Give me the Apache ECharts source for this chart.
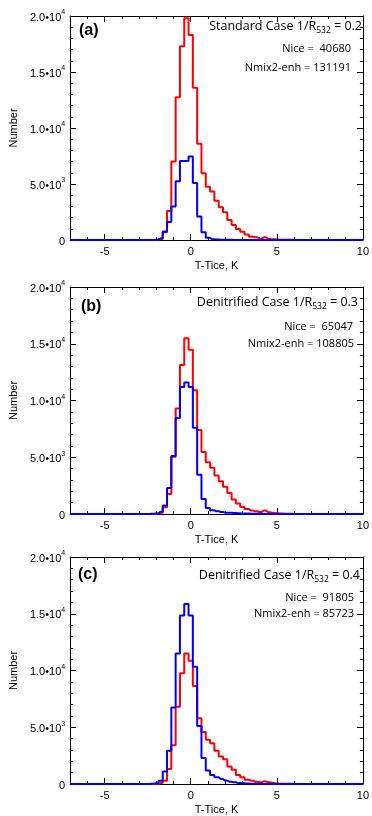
<!DOCTYPE html>
<html><head><meta charset="utf-8">
<script src="https://cdn.jsdelivr.net/npm/echarts@6/dist/echarts.min.js"></script>
<style>html,body{margin:0;padding:0;background:#fff}#c{width:372px;height:816px}</style>
</head><body><div id="c"></div>
<script>
// Bin centres (K), 0.25 K bins; -7 and 10 are the empty ends of the axis range
const binCenters = [-7, -2.5, -2.25, -2, -1.75, -1.5, -1.25, -1, -0.75, -0.5, -0.25, 0, 0.25, 0.5, 0.75, 1, 1.25, 1.5, 1.75, 2, 2.25, 2.5, 2.75, 3, 3.25, 3.5, 3.75, 4, 4.25, 4.5, 4.75, 5, 5.25, 5.5, 5.75, 6, 6.25, 6.5, 10];

// Panel (a) Standard Case
const nmixA = [0, 0, 10, 30, 90, 690, 2600, 7000, 12740, 17300, 19800, 18300, 13600, 8600, 5950, 4760, 4320, 3510, 2920, 2470, 1790, 1340, 980, 740, 480, 300, 240, 120, 240, 90, 60, 40, 30, 20, 15, 10, 5, 0, 0];
const niceA = [0, 0, 10, 30, 150, 760, 1600, 3000, 5250, 7050, 7050, 7450, 5100, 2100, 700, 200, 70, 40, 30, 20, 15, 10, 8, 5, 5, 3, 2, 0, 0, 0, 0, 0, 0, 0, 0, 0, 0, 0, 0];
// Panel (b) Denitrified 0.3
const nmixB = [0, 0, 10, 30, 100, 600, 1770, 5050, 9300, 13120, 15490, 14480, 10910, 7400, 5460, 4570, 4070, 3390, 2890, 2390, 1860, 1270, 915, 620, 440, 300, 240, 180, 300, 150, 100, 60, 40, 20, 15, 10, 5, 0, 0];
const niceB = [0, 0, 20, 50, 200, 740, 2300, 5100, 8450, 11200, 11590, 11200, 7600, 3450, 1330, 530, 320, 240, 180, 120, 100, 80, 60, 50, 40, 30, 20, 15, 10, 8, 5, 3, 0, 0, 0, 0, 0, 0, 0];
// Panel (c) Denitrified 0.4
const nmixC = [0, 0, 5, 20, 80, 290, 1320, 3420, 6800, 9750, 11490, 10850, 8630, 5800, 4590, 3890, 3600, 2920, 2430, 2190, 1550, 1260, 790, 585, 380, 290, 200, 150, 230, 150, 80, 50, 30, 20, 15, 10, 5, 0, 0];
const niceC = [0, 0, 15, 60, 290, 1100, 2920, 6730, 11490, 14850, 15850, 14850, 10320, 5100, 2300, 1200, 790, 600, 440, 300, 200, 150, 90, 60, 40, 30, 20, 15, 10, 5, 0, 0, 0, 0, 0, 0, 0, 0, 0];

const xMajorTicks = [-5, 0, 5, 10];
const yTickValues = [0, 5000, 10000, 15000, 20000];
const yTickMantissa = ['0', '5.0', '1.0', '1.5', '2.0'];
const yTickExponent = ['', '3', '4', '4', '4'];

const panelLabels = ['(a)', '(b)', '(c)'];
const caseNames = ['Standard Case', 'Denitrified Case', 'Denitrified Case'];
const ratioValues = ['0.2', '0.3', '0.4'];
const niceCounts = ['40680', '65047', '91805'];
const nmixCounts = ['131191', '108805', '85723'];
const xAxisTitle = 'T-Tice, K';
const yAxisTitle = 'Number';

const nmixSets = [nmixA, nmixB, nmixC];
const niceSets = [niceA, niceB, niceC];

const grids = [
  {top: 16, height: 224},
  {top: 287, height: 227},
  {top: 557, height: 228}
];
const FONT = 'Liberation Sans, Arial, sans-serif';
const TFONT = 'Open Sans, Noto Sans, sans-serif';

const chart = echarts.init(document.getElementById('c'), null, {renderer: 'canvas'});
const option = {
  animation: false,
  backgroundColor: '#fff',
  grid: [], xAxis: [], yAxis: [], series: [], graphic: []
};
grids.forEach((g, i) => {
  option.grid.push({left: 70, right: 6, top: g.top, height: g.height, show: false});
  const base = {gridIndex: i, type: 'value', min: -7, max: 10, splitLine: {show: false}};
  // bottom major
  option.xAxis.push(Object.assign({}, base, {
    position: 'bottom',
    axisLine: {onZero: false, lineStyle: {color: '#000', width: 1}},
    axisTick: {inside: true, length: 6, customValues: xMajorTicks, lineStyle: {color: '#000'}},
    axisLabel: {customValues: xMajorTicks, color: '#000', fontFamily: FONT, fontSize: 11, margin: 6},
    name: xAxisTitle, nameLocation: 'middle', nameGap: 20,
    nameTextStyle: {color: '#000', fontFamily: FONT, fontSize: 11}
  }));
  // bottom minor
  option.xAxis.push(Object.assign({}, base, {
    position: 'bottom', interval: 1,
    axisLine: {show: false, onZero: false},
    axisTick: {inside: true, length: 3, lineStyle: {color: '#000'}},
    axisLabel: {show: false}
  }));
  // top major
  option.xAxis.push(Object.assign({}, base, {
    position: 'top',
    axisLine: {onZero: false, lineStyle: {color: '#000', width: 1}},
    axisTick: {inside: true, length: 6, customValues: xMajorTicks, lineStyle: {color: '#000'}},
    axisLabel: {show: false}
  }));
  // top minor
  option.xAxis.push(Object.assign({}, base, {
    position: 'top', interval: 1,
    axisLine: {show: false, onZero: false},
    axisTick: {inside: true, length: 3, lineStyle: {color: '#000'}},
    axisLabel: {show: false}
  }));
  const ybase = {gridIndex: i, type: 'value', min: 0, max: 20000, interval: 5000, splitLine: {show: false}};
  option.yAxis.push(Object.assign({}, ybase, {
    position: 'left',
    axisLine: {show: true, onZero: false, lineStyle: {color: '#000', width: 1}},
    axisTick: {show: true, inside: true, length: 6, lineStyle: {color: '#000'}},
    minorTick: {show: true, splitNumber: 5, length: 3, lineStyle: {color: '#000'}},
    axisLabel: {
      margin: 5,
      formatter: function (v) {
        const k = yTickValues.indexOf(v);
        if (k < 0) return '';
        if (yTickExponent[k] === '') return '{m|' + yTickMantissa[k] + '}';
        return '{m|' + yTickMantissa[k] + '•10}{e|' + yTickExponent[k] + '}';
      },
      rich: {
        m: {fontFamily: FONT, fontSize: 11, color: '#000', lineHeight: 14, verticalAlign: 'bottom'},
        e: {fontFamily: FONT, fontSize: 7, color: '#000', lineHeight: 14, verticalAlign: 'top', padding: [0, 0, 6, 0]}
      }
    },
    name: yAxisTitle, nameLocation: 'middle', nameGap: 50, nameRotate: 90,
    nameTextStyle: {color: '#000', fontFamily: FONT, fontSize: 11}
  }));
  option.yAxis.push(Object.assign({}, ybase, {
    position: 'right',
    axisLine: {show: true, onZero: false, lineStyle: {color: '#000', width: 1}},
    axisTick: {show: true, inside: true, length: 6, lineStyle: {color: '#000'}},
    minorTick: {show: true, splitNumber: 5, length: 3, lineStyle: {color: '#000'}},
    axisLabel: {show: false}
  }));
  const mk = (arr) => binCenters.map((x, j) => [x, arr[j]]);
  option.series.push({
    type: 'line', xAxisIndex: i * 4, yAxisIndex: i * 2, step: 'middle', symbol: 'none', clip: false,
    data: mk(nmixSets[i]), lineStyle: {color: '#ff0000', width: 2}, z: 3
  });
  option.series.push({
    type: 'line', xAxisIndex: i * 4, yAxisIndex: i * 2, step: 'middle', symbol: 'none', clip: false,
    data: mk(niceSets[i]), lineStyle: {color: '#0000ff', width: 2}, z: 4
  });
});

// Annotation text positions (pixels)
const labelPos = [[79, 31], [81, 307], [78, 575]];
const titlePos = [[362, 26], [358, 302], [360, 575]];
const nicePos = [[351, 49], [353, 327], [354, 598]];
const nmixPos = [[351, 68], [354, 344], [354, 614]];
for (let i = 0; i < 3; i++) {
  option.graphic.push({
    type: 'text', x: labelPos[i][0], y: labelPos[i][1], z: 10,
    style: {text: panelLabels[i], fill: '#000', font: 'bold 16px ' + FONT, verticalAlign: 'middle', align: 'left'}
  });
  option.graphic.push({
    type: 'text', x: titlePos[i][0], y: titlePos[i][1], z: 10,
    style: {
      text: '{t|' + caseNames[i] + ' 1/R}{s|532}{t| = ' + ratioValues[i] + '}',
      align: 'right', verticalAlign: 'middle',
      rich: {
        t: {fontFamily: TFONT, fontSize: 12.5, fill: '#000', lineHeight: 18, verticalAlign: 'middle'},
        s: {fontFamily: TFONT, fontSize: 8.5, fill: '#000', lineHeight: 18, verticalAlign: 'bottom', padding: [8, 0, 0, 0]}
      }
    }
  });
  option.graphic.push({
    type: 'text', x: nicePos[i][0], y: nicePos[i][1], z: 10,
    style: {text: 'Nice =  ' + niceCounts[i], fill: '#000', font: '11px ' + TFONT, align: 'right', verticalAlign: 'middle'}
  });
  option.graphic.push({
    type: 'text', x: nmixPos[i][0], y: nmixPos[i][1], z: 10,
    style: {text: 'Nmix2-enh = ' + nmixCounts[i], fill: '#000', font: '11px ' + TFONT, align: 'right', verticalAlign: 'middle'}
  });
}
chart.setOption(option);
</script>
</body></html>
